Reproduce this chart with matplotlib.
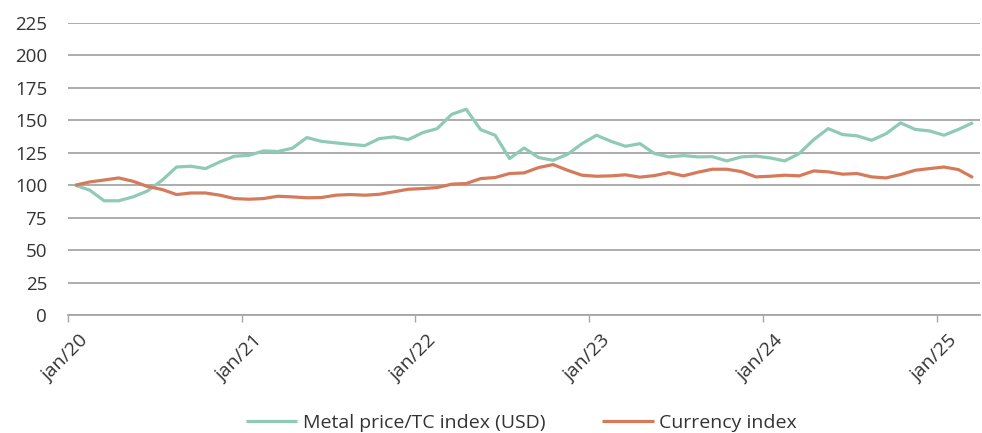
import matplotlib

matplotlib.use("Agg")
import matplotlib.pyplot as plt
import numpy as np

plt.rcParams["font.family"] = ["Open Sans", "DejaVu Sans"]

# monthly values, jan/20 .. mar/25
metal_index = [
    100, 96.2, 88, 88, 91, 95.6, 103.8, 114, 114.6, 112.8, 118, 122.3,
    123, 126.4, 126, 128.5, 136.7, 133.8, 132.6, 131.5, 130.5, 135.9, 137.2, 135.1,
    140.5, 143.6, 154.6, 158.5, 142.8, 138.5, 120.5, 128.7, 121.3, 119.2, 123.8, 132,
    138.5, 133.8, 130, 132, 124.4, 121.8, 122.8, 121.8, 122, 118.7, 121.8, 122.4,
    121, 118.7, 124.4, 135.1, 143.6, 139, 138, 134.6, 139.7, 148, 143, 141.8,
    138.5, 143, 148.2,
]
currency_index = [
    100, 102.5, 104, 105.6, 103, 99, 96.7, 92.8, 94, 94, 92.3, 89.7,
    89.2, 89.7, 91.5, 91, 90.3, 90.5, 92.3, 92.8, 92.3, 93, 94.9, 96.9,
    97.4, 98.2, 100.8, 101.3, 105.1, 105.9, 109, 109.5, 113.6, 115.9, 111.5, 107.7,
    106.9, 107.2, 108, 106.2, 107.4, 109.7, 107.2, 110, 112.3, 112.3, 110.5, 106.4,
    106.9, 107.7, 107.2, 111, 110.3, 108.5, 109, 106.4, 105.6, 108.2, 111.5, 112.8,
    114, 112, 105.9,
]
year_labels = ["jan/20", "jan/21", "jan/22", "jan/23", "jan/24", "jan/25"]
y_ticks = [0, 25, 50, 75, 100, 125, 150, 175, 200, 225]

GREEN = "#8fcab5"
ORANGE = "#d57b5b"
GRID = "#a6a6a6"
TEXT = "#333333"
FS = 13.5

fig = plt.figure(figsize=(9.82, 4.33), dpi=100)
ax = fig.add_axes([0.0692, 0.2725, 0.929, 0.6745])

x = np.arange(len(metal_index)) + 0.5
ax.plot(x, metal_index, color=GREEN, lw=2.3, label="Metal price/TC index (USD)", solid_capstyle="butt")
ax.plot(x, currency_index, color=ORANGE, lw=2.3, label="Currency index", solid_capstyle="butt")

ax.set_xlim(0, len(metal_index))
ax.set_ylim(0, 225)
ax.set_yticks(y_ticks)
year_ticks = np.arange(len(year_labels)) * 12
ax.set_xticks(year_ticks)
ax.set_xticklabels([])

# rotated year labels, top-right corner sits a bit right of each tick
for pos, lbl in zip(year_ticks, year_labels):
    ax.annotate(
        lbl, xy=(pos, 0), xycoords=("data", "axes fraction"),
        xytext=(8, -12), textcoords="offset points",
        rotation=45, rotation_mode="anchor", ha="right", va="top",
        fontsize=14, color=TEXT,
    )

ax.grid(axis="y", color=GRID, lw=1.3)
ax.set_axisbelow(True)
for side in ["top", "right", "left"]:
    ax.spines[side].set_visible(False)
ax.spines["bottom"].set_color(GRID)
ax.spines["bottom"].set_linewidth(1.3)
ax.tick_params(axis="y", length=0, labelsize=FS, labelcolor=TEXT, pad=15)
ax.tick_params(axis="x", length=5, color=GRID, width=1)

fig.legend(
    loc="center",
    bbox_to_anchor=(0.531, 10 / 433),
    ncol=2,
    frameon=False,
    fontsize=14,
    handlelength=2.65,
    handletextpad=0.3,
    columnspacing=2.9,
    labelcolor=TEXT,
)

fig.savefig("out.png", dpi=100)
